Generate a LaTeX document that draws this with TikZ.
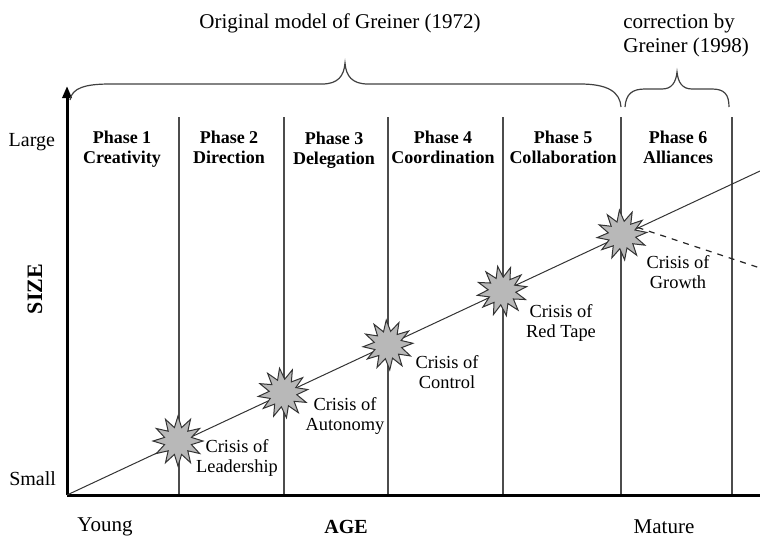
\documentclass[tikz,border=0pt]{standalone}
\usepackage{fontspec}
\setmainfont{Liberation Serif}
\usetikzlibrary{shapes.geometric,arrows.meta}

\tikzset{
  crisis/.style={star, star points=12, star point ratio=1.8, minimum size=25pt,
    inner sep=0pt, fill=black!28, draw=black!80, line width=0.5pt},
  phase/.style={align=center, anchor=north, font=\bfseries\fontsize{9}{10}\selectfont},
  crisislabel/.style={align=center, font=\fontsize{9.2}{10}\selectfont},
  divider/.style={draw=black!70, line width=0.7pt},
  bracket/.style={draw=black!75, line width=0.6pt}
}

\begin{document}
\begin{tikzpicture}[x=0.5pt, y=-0.5pt]
	\useasboundingbox (0,0) rectangle (760,537);
	%\draw[help lines] (0,0) grid[step=50] (760,537);
	% phase dividers
	\draw[divider] (179,117) -- (179,495);
	\draw[divider] (284,117) -- (284,495);
	\draw[divider] (388,117) -- (388,495);
	\draw[divider] (503,117) -- (503,495);
	\draw[divider] (621,117) -- (621,495);
	\draw[divider] (732,117) -- (732,495);
	% axes
	\coordinate (origin) at (67,495);
	\coordinate (top) at (67,86);
	\coordinate (right) at (760,495);
	\draw[line width=1.5pt, -{Triangle[length=6pt, width=4.5pt]}] (origin) -- (top);
	\draw[line width=1.5pt] (origin) -- (right);
	% growth line
	\coordinate (growthend) at (760,171);
	\coordinate (declineend) at (760,268);
	\draw[draw=black!80, line width=0.5pt] (origin) -- (growthend);
	% crises
	\node[crisis] (leadership) at (178,441) {};
	\node[crisis, rotate=8] (autonomy) at (283,393) {};
	\node[crisis, rotate=4] (control) at (388,345) {};
	\node[crisis, rotate=10] (redtape) at (502,291) {};
	\node[crisis, rotate=6] (growth) at (622,235) {};
	\draw[dashed, draw=black!85, line width=0.6pt] (growth.20) -- (declineend);
	\node[crisislabel] (lleadership) at (237,458) {Crisis of\\Leadership};
	\node[crisislabel] (lautonomy) at (345,416) {Crisis of\\Autonomy};
	\node[crisislabel] (lcontrol) at (447,372) {Crisis of\\Control};
	\node[crisislabel] (lredtape) at (561,323) {Crisis of\\Red Tape};
	\node[crisislabel] (lgrowth) at (678,272) {Crisis of\\Growth};
	% phases
	\node[phase] (phase1) at (122,124) {Phase 1\\Creativity};
	\node[phase] (phase2) at (229,124) {Phase 2\\Direction};
	\node[phase] (phase3) at (334,125) {Phase 3\\Delegation};
	\node[phase] (phase4) at (443,124) {Phase 4\\Coordination};
	\node[phase] (phase5) at (563,124) {Phase 5\\Collaboration};
	\node[phase] (phase6) at (678,124) {Phase 6\\Alliances};
	% axis labels
	\node[anchor=east, font=\fontsize{10}{12}\selectfont] (large) at (62,142) {Large};
	\node[anchor=east, font=\fontsize{10}{12}\selectfont] (small) at (63,479) {Small};
	\node[rotate=90, font=\bfseries\fontsize{11}{13}\selectfont] (size) at (35,289) {SIZE};
	\node[font=\fontsize{10.5}{12}\selectfont] (young) at (105,527) {Young};
	\node[font=\bfseries\fontsize{10}{12}\selectfont] (age) at (346,527) {AGE};
	\node[font=\fontsize{10.5}{12}\selectfont] (mature) at (664,527) {Mature};
	% braces
	\draw[bracket] (70,100) .. controls (72,88) and (85,84) .. (110,84) -- (322,84)
		.. controls (338,84) and (344,76) .. (345,63) .. controls (346,76) and (352,84) .. (368,84)
		-- (580,84) .. controls (608,84) and (620,92) .. (621,107);
	\draw[bracket] (625,107) .. controls (626,94) and (632,89) .. (645,89) -- (662,89)
		.. controls (672,89) and (676,82) .. (677,72) .. controls (678,82) and (682,89) .. (692,89)
		-- (712,89) .. controls (724,89) and (729,94) .. (729,107);
	\node[font=\fontsize{10.5}{12}\selectfont] (original) at (340,23) {Original model of Greiner (1972)};
	\node[align=left, anchor=west, inner sep=0pt] (correction) at (623,35)
		{\fontsize{10.5}{12}\selectfont correction by\\[0pt]\fontsize{10.5}{12}\selectfont Greiner (1998)};
\end{tikzpicture}
\end{document}
